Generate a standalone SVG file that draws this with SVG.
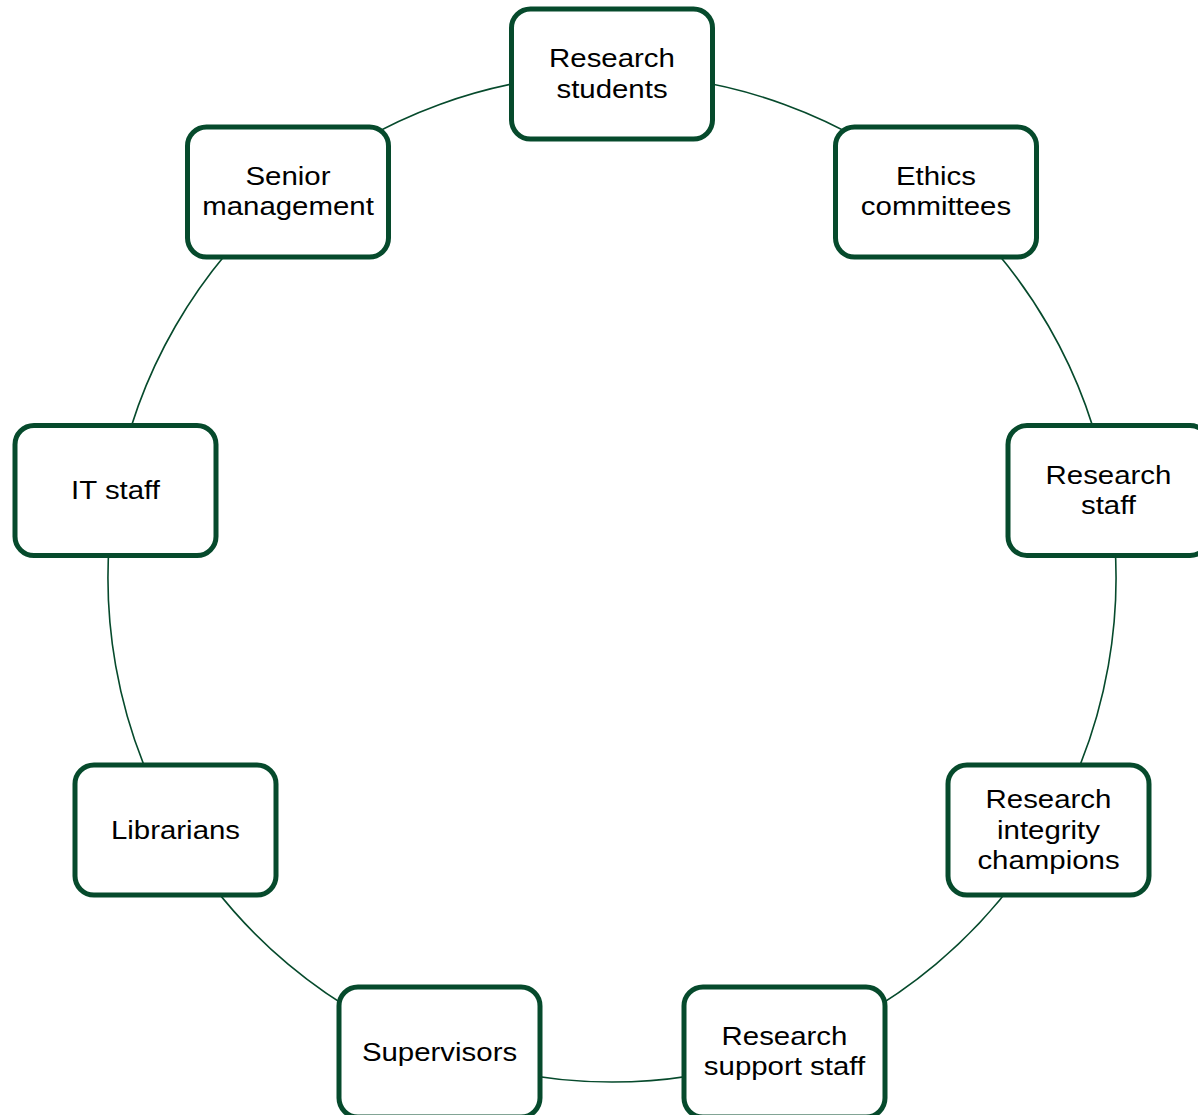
<svg xmlns="http://www.w3.org/2000/svg" width="1198" height="1115" viewBox="0 0 1198 1115">
<style>
.box{fill:#ffffff;stroke:#064a2c;stroke-width:5}
.conn{fill:none;stroke:#064a2c;stroke-width:1.6}
text{font-family:"Liberation Sans",Arial,sans-serif;font-size:26.5px;fill:#000000;text-anchor:middle}
</style>
<rect width="1198" height="1115" fill="#ffffff"/>
<g id="connectors">
<path class="conn" d="M612,74 A504,504 0 0 1 935.96,191.94"/>
<path class="conn" d="M935.96,191.94 A504,504 0 0 1 1108.35,490.48"/>
<path class="conn" d="M1108.35,490.48 A504,504 0 0 1 1048.47,830"/>
<path class="conn" d="M1048.47,830 A504,504 0 0 1 784.38,1051.6"/>
<path class="conn" d="M784.38,1051.6 A504,504 0 0 1 439.62,1051.6"/>
<path class="conn" d="M439.62,1051.6 A504,504 0 0 1 175.53,830"/>
<path class="conn" d="M175.53,830 A504,504 0 0 1 115.65,490.48"/>
<path class="conn" d="M115.65,490.48 A504,504 0 0 1 288.04,191.94"/>
<path class="conn" d="M288.04,191.94 A504,504 0 0 1 612,74"/>
</g>
<g id="research-students">
<rect class="box" x="511.5" y="9" width="201" height="130" rx="19"/>
<g transform="translate(612 0) scale(1.11 1)">
<text x="0" y="67.5">Research</text>
<text x="0" y="98">students</text>
</g>
</g>
<g id="ethics-committees">
<rect class="box" x="835.5" y="127" width="201" height="130" rx="19"/>
<g transform="translate(936 0) scale(1.11 1)">
<text x="0" y="185">Ethics</text>
<text x="0" y="215.5">committees</text>
</g>
</g>
<g id="research-staff">
<rect class="box" x="1008" y="425.5" width="201" height="130" rx="19"/>
<g transform="translate(1108.5 0) scale(1.11 1)">
<text x="0" y="484">Research</text>
<text x="0" y="514.5">staff</text>
</g>
</g>
<g id="research-integrity-champions">
<rect class="box" x="948" y="765" width="201" height="130" rx="19"/>
<g transform="translate(1048.5 0) scale(1.11 1)">
<text x="0" y="808.5">Research</text>
<text x="0" y="839">integrity</text>
<text x="0" y="869.5">champions</text>
</g>
</g>
<g id="research-support-staff">
<rect class="box" x="684" y="987" width="201" height="130" rx="19"/>
<g transform="translate(784.5 0) scale(1.11 1)">
<text x="0" y="1045">Research</text>
<text x="0" y="1075.5">support staff</text>
</g>
</g>
<g id="supervisors">
<rect class="box" x="339" y="987" width="201" height="130" rx="19"/>
<g transform="translate(439.5 0) scale(1.11 1)">
<text x="0" y="1061">Supervisors</text>
</g>
</g>
<g id="librarians">
<rect class="box" x="75" y="765" width="201" height="130" rx="19"/>
<g transform="translate(175.5 0) scale(1.11 1)">
<text x="0" y="839">Librarians</text>
</g>
</g>
<g id="it-staff">
<rect class="box" x="15" y="425.5" width="201" height="130" rx="19"/>
<g transform="translate(115.5 0) scale(1.11 1)">
<text x="0" y="499.5">IT staff</text>
</g>
</g>
<g id="senior-management">
<rect class="box" x="187.5" y="127" width="201" height="130" rx="19"/>
<g transform="translate(288 0) scale(1.11 1)">
<text x="0" y="185">Senior</text>
<text x="0" y="215.5">management</text>
</g>
</g>
</svg>
